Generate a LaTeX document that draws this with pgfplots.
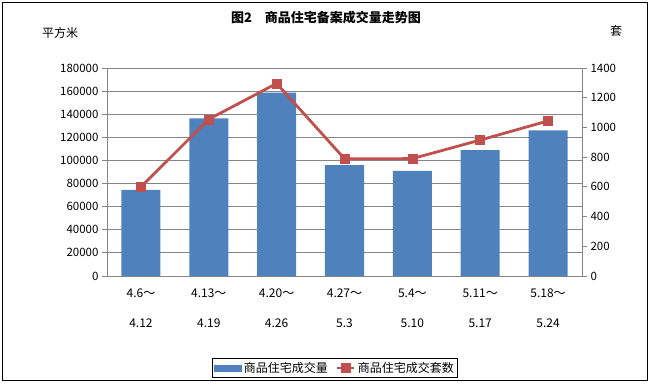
\documentclass[border=0pt]{standalone}
\usepackage{fontspec}
\setmainfont{Noto Sans CJK SC}
\usepackage{pgfplots}
\pgfplotsset{compat=1.18}
\definecolor{barblue}{HTML}{4F81BD}
\definecolor{linered}{HTML}{C0504D}
\definecolor{gridgray}{HTML}{868686}
\begin{document}
\begin{tikzpicture}[x=1pt,y=1pt]
\useasboundingbox (0,0) rectangle (650,386);
\draw[black, line width=1pt] (2.5,6) rectangle (647.5,383.5);
\node[font=\bfseries\fontsize{13}{15}\selectfont] at (326,368) {图2\hspace{1em}商品住宅备案成交量走势图};
\node[font=\fontsize{12}{14}\selectfont] at (60,353) {平方米};
\node[font=\fontsize{12}{14}\selectfont] at (616,355) {套};
\begin{axis}[
  at={(107pt,110pt)}, anchor=south west,
  scale only axis, width=475pt, height=208pt,
  xmin=-0.5, xmax=6.5, ymin=0, ymax=180000,
  axis x line*=bottom, axis y line*=left,
  axis line style={gridgray, line width=0.8pt},
  xtick={0,1,2,3,4,5,6},
  xticklabels={4.6～\\[16pt]4.12, 4.13～\\[16pt]4.19, 4.20～\\[16pt]4.26, 4.27～\\[16pt]5.3, 5.4～\\[16pt]5.10, 5.11～\\[16pt]5.17, 5.18～\\[16pt]5.24},
  xticklabel style={align=center, font=\fontsize{12}{14}\selectfont, yshift=-4pt},
  xtick style={draw=none},
  ytick={0,20000,...,180000},
  scaled y ticks=false,
  yticklabel style={font=\fontsize{11.5}{13}\selectfont, /pgf/number format/fixed, /pgf/number format/1000 sep={}},
  /pgf/number format/assume math mode=true,
  ytick style={gridgray, line width=0.8pt},
  tick align=outside, major tick length=5pt,
  ymajorgrids, grid style={gridgray, line width=0.8pt},
  ybar, bar width=39pt,
]
\addplot[fill=barblue, draw=none, bar shift=0pt] coordinates {
 (0,74500) (1,136300) (2,158600) (3,96000) (4,90900) (5,108900) (6,126000)};
\end{axis}
\begin{axis}[
  at={(107pt,110pt)}, anchor=south west,
  scale only axis, width=475pt, height=208pt,
  xmin=-0.5, xmax=6.5, ymin=0, ymax=1400,
  axis x line=none, axis y line*=right,
  axis line style={gridgray, line width=0.8pt},
  ytick={0,200,...,1400},
  yticklabel style={font=\fontsize{11.5}{13}\selectfont, /pgf/number format/fixed, /pgf/number format/1000 sep={}},
  /pgf/number format/assume math mode=true,
  ytick style={gridgray, line width=0.8pt},
  tick align=outside, major tick length=5pt,
  legend columns=2,
  legend style={at={(0.48,-0.442)}, anchor=center, draw=black, line width=0.8pt,
    font=\fontsize{12}{14}\selectfont, inner sep=1.5pt,
    /tikz/every even column/.append style={column sep=6pt}},
]
\addlegendimage{legend image code/.code={\fill[barblue] (0pt,-3pt) rectangle (27pt,3pt);}}
\addlegendentry{商品住宅成交量}
\addplot[linered, line width=2.8pt, mark=square*, mark size=4.5pt, mark options={fill=linered, draw=linered, line width=0.5pt}] coordinates {
 (0,599) (1,1055) (2,1296) (3,789) (4,790) (5,915) (6,1044)};
\addlegendentry{商品住宅成交套数}
\end{axis}
\end{tikzpicture}
\end{document}
